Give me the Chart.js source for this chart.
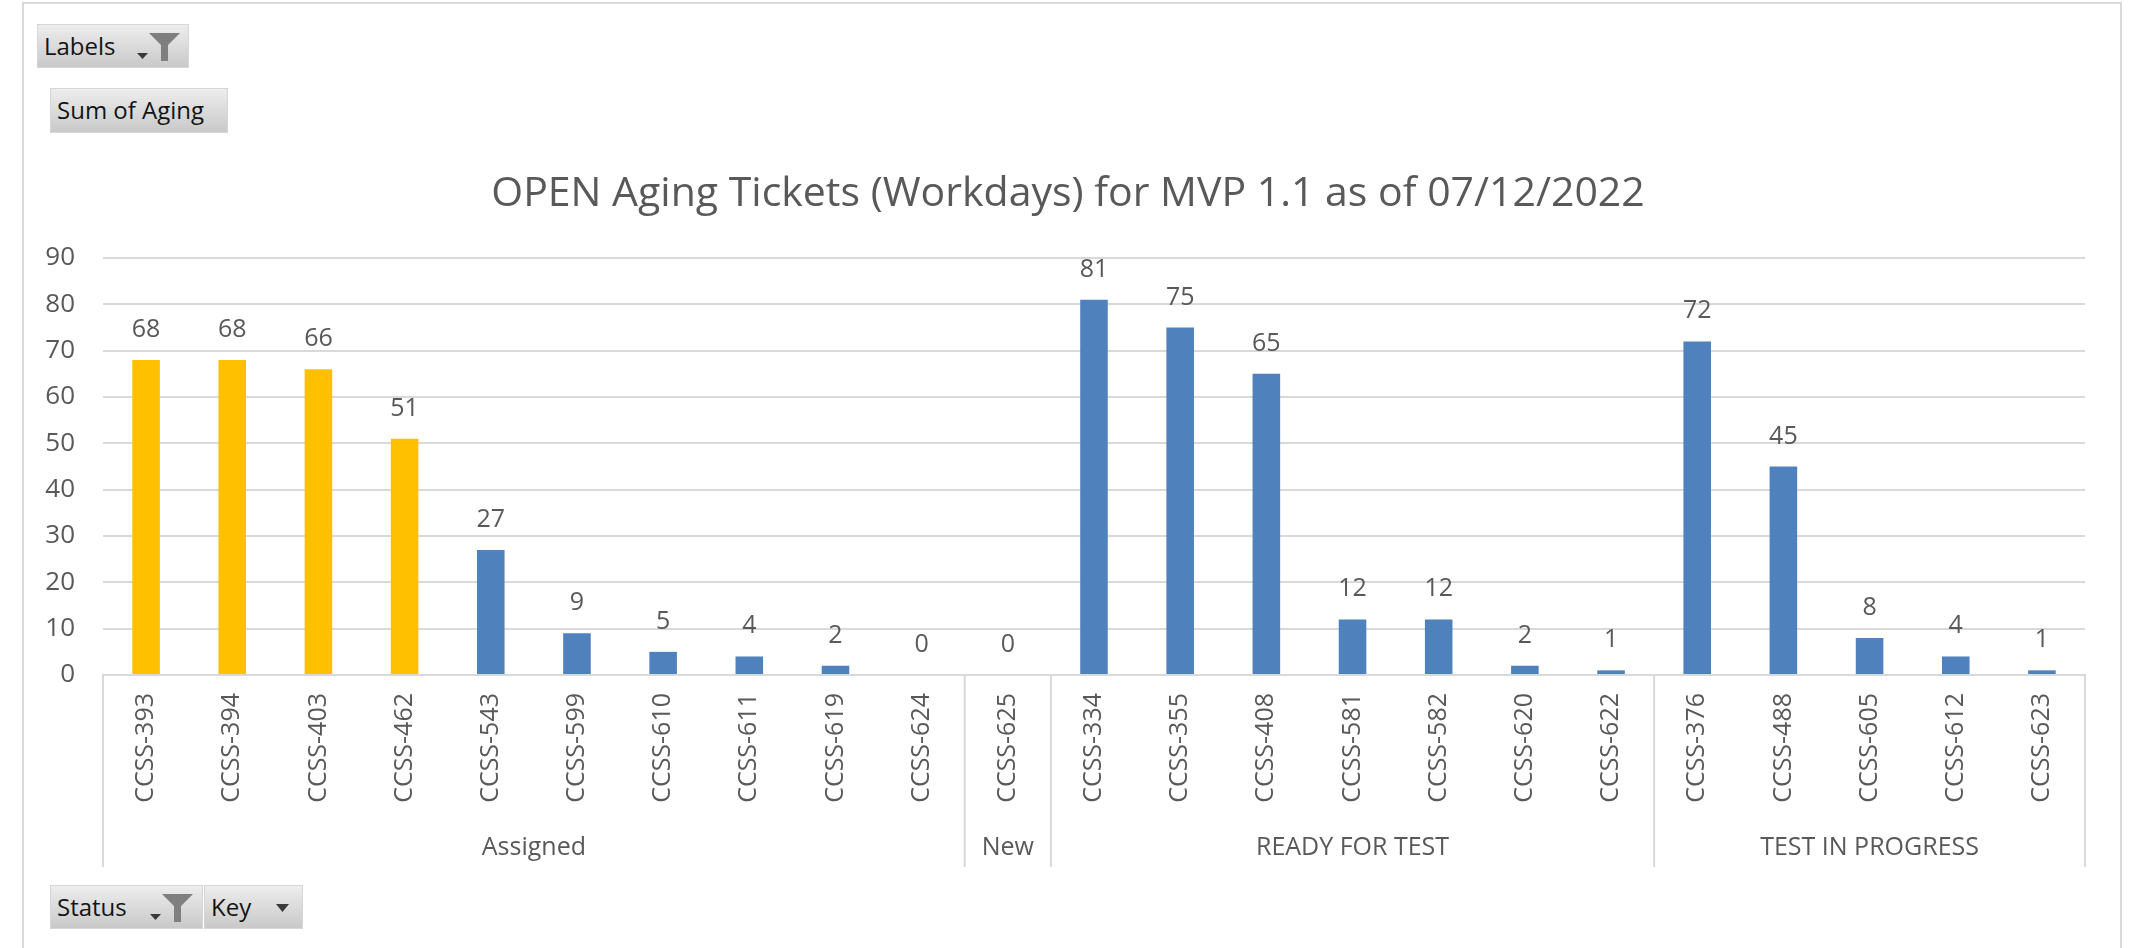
<!DOCTYPE html>
<html>
<head>
<meta charset="utf-8">
<title>OPEN Aging Tickets</title>
<script src="https://cdn.jsdelivr.net/npm/chart.js@4.4.0/dist/chart.umd.min.js"></script>
<style>
	html, body { margin: 0; padding: 0; background: #fff; }
	body { width: 2137px; height: 948px; position: relative; overflow: hidden; font-family: "Open Sans", sans-serif; }
	#frame { position: absolute; left: 22px; top: 2px; width: 2100px; height: 980px; border: 2px solid #d9d9d9; box-sizing: border-box; }
	#chart { position: absolute; left: 0; top: 0; }
	.btn {
		position: absolute; height: 44px; box-sizing: border-box;
		background: linear-gradient(#ededed, #c9c9c9);
		border: 1px solid #d6d6d6;
		font-size: 24px; line-height: 41px; color: #141414;
		padding-left: 6px; white-space: nowrap;
	}
	.btn svg { position: absolute; }
</style>
</head>
<body>
<div id="frame"></div>
<canvas id="chart" width="2137" height="948"></canvas>

<div class="btn" style="left:37px;top:24px;width:152px;">Labels
	<svg style="left:99px;top:28px" width="11" height="6"><polygon points="0,0 11,0 5.5,6" fill="#3a3a3a"/></svg>
	<svg style="left:111px;top:8px" width="31" height="28"><path d="M0 0 H31 L19 12 V28 H12 V12 Z" fill="#7f7f7f"/></svg>
</div>
<div class="btn" style="left:50px;top:88px;width:178px;height:45px;line-height:42px;">Sum of Aging</div>
<div class="btn" style="left:50px;top:885px;width:153px;">Status
	<svg style="left:99px;top:28px" width="11" height="6"><polygon points="0,0 11,0 5.5,6" fill="#3a3a3a"/></svg>
	<svg style="left:111px;top:8px" width="31" height="28"><path d="M0 0 H31 L19 12 V28 H12 V12 Z" fill="#7f7f7f"/></svg>
</div>
<div class="btn" style="left:204px;top:885px;width:99px;">Key
	<svg style="left:71px;top:18px" width="13" height="8"><polygon points="0,0 13,0 6.5,8" fill="#3a3a3a"/></svg>
</div>

<script>
// Data
const keys = [
	"CCSS-393", "CCSS-394", "CCSS-403", "CCSS-462", "CCSS-543", "CCSS-599", "CCSS-610", "CCSS-611", "CCSS-619", "CCSS-624",
	"CCSS-625",
	"CCSS-334", "CCSS-355", "CCSS-408", "CCSS-581", "CCSS-582", "CCSS-620", "CCSS-622",
	"CCSS-376", "CCSS-488", "CCSS-605", "CCSS-612", "CCSS-623",
];
const aging = [
	68, 68, 66, 51, 27, 9, 5, 4, 2, 0,
	0,
	81, 75, 65, 12, 12, 2, 1,
	72, 45, 8, 4, 1,
];
const statusNames = ["Assigned", "New", "READY FOR TEST", "TEST IN PROGRESS"];
const statusSizes = [10, 1, 7, 5];
const highlightedKeys = ["CCSS-393", "CCSS-394", "CCSS-403", "CCSS-462"];
const yMin = 0;
const yMax = 90;
const yStep = 10;

const chartTitle = "OPEN Aging Tickets (Workdays) for MVP 1.1 as of 07/12/2022";
const textGrey = "#595959";
const lineGrey = "#d9d9d9";

Chart.defaults.font.family = "'Open Sans', sans-serif";
Chart.defaults.color = textGrey;

// judul, label nilai, dan sumbu kategori bertingkat
const extrasPlugin = {
	id: "extras",
	afterDraw(chart) {
		const ctx = chart.ctx;
		const area = chart.chartArea;
		const xs = chart.scales.x;

		ctx.save();
		// title
		ctx.fillStyle = textGrey;
		ctx.font = "41px 'Open Sans', sans-serif";
		ctx.textAlign = "center";
		ctx.textBaseline = "middle";
		ctx.fillText(chartTitle, 1068, 194);

		// value labels above bars
		ctx.font = "25px 'Open Sans', sans-serif";
		ctx.textBaseline = "alphabetic";
		chart.getDatasetMeta(0).data.forEach((bar, i) => {
			ctx.fillText(String(aging[i]), bar.x, bar.y - 23);
		});

		// group separators and group names
		ctx.strokeStyle = lineGrey;
		ctx.lineWidth = 2;
		const sepBottom = area.bottom + 192;
		let start = 0;
		const edges = [area.left];
		statusSizes.forEach((n) => {
			const end = start + n;
			let x;
			if (end >= keys.length) x = area.right;
			else x = (xs.getPixelForValue(end - 1) + xs.getPixelForValue(end)) / 2;
			edges.push(x);
			start = end;
		});
		edges.forEach((x) => {
			ctx.beginPath();
			ctx.moveTo(x, area.bottom);
			ctx.lineTo(x, sepBottom);
			ctx.stroke();
		});
		ctx.font = "25px 'Open Sans', sans-serif";
		ctx.textBaseline = "middle";
		statusNames.forEach((name, g) => {
			ctx.fillText(name, (edges[g] + edges[g + 1]) / 2, area.bottom + 173);
		});
		ctx.restore();
	},
};

new Chart(document.getElementById("chart"), {
	type: "bar",
	data: {
		labels: keys,
		datasets: [
			{
				label: "Sum of Aging",
				data: aging,
				backgroundColor: keys.map((k) => (highlightedKeys.includes(k) ? "#FFC000" : "#4F81BD")),
				barPercentage: 0.32,
				categoryPercentage: 1,
			},
		],
	},
	options: {
		responsive: false,
		animation: false,
		layout: { padding: { top: 258, right: 52, bottom: 0, left: 0 } },
		plugins: {
			legend: { display: false },
			title: { display: false },
			tooltip: { enabled: false },
		},
		scales: {
			x: {
				grid: { display: false, drawTicks: false },
				border: { display: true, color: lineGrey, width: 2 },
				ticks: {
					autoSkip: false,
					minRotation: 90,
					maxRotation: 90,
					padding: 18,
					color: textGrey,
					font: { size: 25 },
				},
				afterFit: (scale) => {
					scale.height = 273;
				},
			},
			y: {
				min: yMin,
				max: yMax,
				grid: { color: lineGrey, lineWidth: 2, drawTicks: false },
				border: { display: false },
				ticks: {
					stepSize: yStep,
					padding: 28,
					color: textGrey,
					font: { size: 26 },
				},
				afterFit: (scale) => {
					scale.width = 103;
				},
			},
		},
	},
	plugins: [extrasPlugin],
});
</script>
</body>
</html>
